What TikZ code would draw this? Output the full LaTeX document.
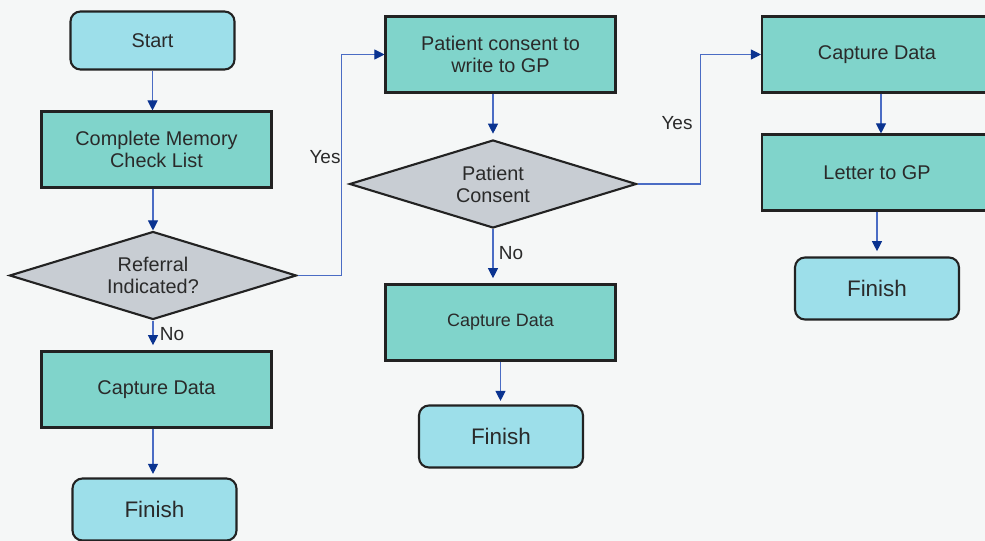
\documentclass[tikz,border=0pt]{standalone}
\usepackage{fontspec}
\setmainfont{Liberation Sans}
\usetikzlibrary{positioning, shapes.geometric, arrows.meta}

\definecolor{bgcol}{HTML}{F5F7F7}
\definecolor{termfill}{HTML}{9DDFEA}
\definecolor{procfill}{HTML}{80D4CB}
\definecolor{decfill}{HTML}{C8CDD3}
\definecolor{boxline}{HTML}{222222}
\definecolor{textcol}{HTML}{2A2A2A}
\definecolor{linecol}{HTML}{4A6CC4}
\definecolor{tipcol}{HTML}{0A3390}

\tikzset{
  termbox/.style={draw=boxline, fill=termfill, rounded corners=0.2cm, line width=1.2pt,
    minimum width=3.28cm, text=textcol, align=center},
  procbox/.style={draw=boxline, fill=procfill, line width=1.2pt,
    minimum width=4.6cm, minimum height=1.52cm, text=textcol, align=center,
    font=\fontsize{11.3}{12.5}\selectfont},
  decbox/.style={diamond, shape aspect=3.2, draw=boxline, fill=decfill, line width=1.2pt, inner sep=0pt,
    minimum width=5.74cm, minimum height=1.76cm, text=textcol, align=center,
    font=\fontsize{11.3}{12.5}\selectfont},
  flowline/.style={draw=linecol, line width=0.6pt,
    -{Triangle[length=0.2cm, width=0.2cm, color=tipcol]}},
  flowlabel/.style={text=textcol, font=\fontsize{10.8}{12}\selectfont}
}

\begin{document}
\begin{tikzpicture}[x=0.02cm, y=-0.02cm]
\fill[bgcol] (0,0) rectangle (985,541);
\useasboundingbox (0,0) rectangle (985,541);

% left column
\node (Start) [termbox, minimum height=1.16cm, font=\fontsize{11.3}{12.5}\selectfont] at (152.5,40.5) {Start};
\node (CheckList) [procbox] at (156.5,149.5) {Complete Memory\\Check List};
\node (Referral) [decbox] at (153,275.5) {Referral\\Indicated?};
\node (CaptureA) [procbox] at (156.5,389.5) {Capture Data};
\node (FinishA) [termbox, minimum height=1.24cm, font=\fontsize{12.8}{15}\selectfont] at (154.5,509.5) {Finish};

% middle column
\node (Consent) [procbox] at (500.5,54.5) {Patient consent to\\write to GP};
\node (Decision) [decbox] at (493,184) {Patient\\Consent};
\node (CaptureB) [procbox, font=\fontsize{10.2}{12}\selectfont] at (500.5,322.5) {Capture Data};
\node (FinishB) [termbox, minimum height=1.24cm, font=\fontsize{12.8}{15}\selectfont] at (501,436.5) {Finish};

% right column
\node (CaptureC) [procbox] at (877,54.5) {Capture Data};
\node (Letter) [procbox] at (877,172.5) {Letter to GP};
\node (FinishC) [termbox, minimum height=1.24cm, font=\fontsize{12.8}{15}\selectfont] at (877,288.5) {Finish};

% connectors
\draw[flowline] (Start.south) -- (Start.south |- CheckList.north);
\draw[flowline] (Referral.north |- CheckList.south) -- (Referral.north);
\draw[flowline, shorten >=3pt] (Referral.south) -- (Referral.south |- CaptureA.north);
\draw[flowline, shorten >=2pt] (Referral.south |- CaptureA.south) -- (Referral.south |- FinishA.north);
\draw[flowline] (Referral.east) -- ++(44,0) |- (Consent.west);

\draw[flowline, shorten >=3pt] (Decision.north |- Consent.south) -- (Decision.north);
\draw[flowline, shorten >=3pt] (Decision.south) -- (Decision.south |- CaptureB.north);
\draw[flowline, shorten >=2pt] (CaptureB.south) -- (CaptureB.south |- FinishB.north);
\draw[flowline] (Decision.east) -- ++(63,0) |- (CaptureC.west);

\draw[flowline] ([xshift=0.08cm]CaptureC.south) -- ([xshift=0.08cm]Letter.north);
\draw[flowline, shorten >=3pt] (Letter.south) -- (FinishC.north);

% labels
\node (YesA) [flowlabel] at (325,157) {Yes};
\node (NoA) [flowlabel] at (172,334) {No};
\node (YesB) [flowlabel] at (677,123) {Yes};
\node (NoB) [flowlabel] at (511,253) {No};
\end{tikzpicture}
\end{document}
